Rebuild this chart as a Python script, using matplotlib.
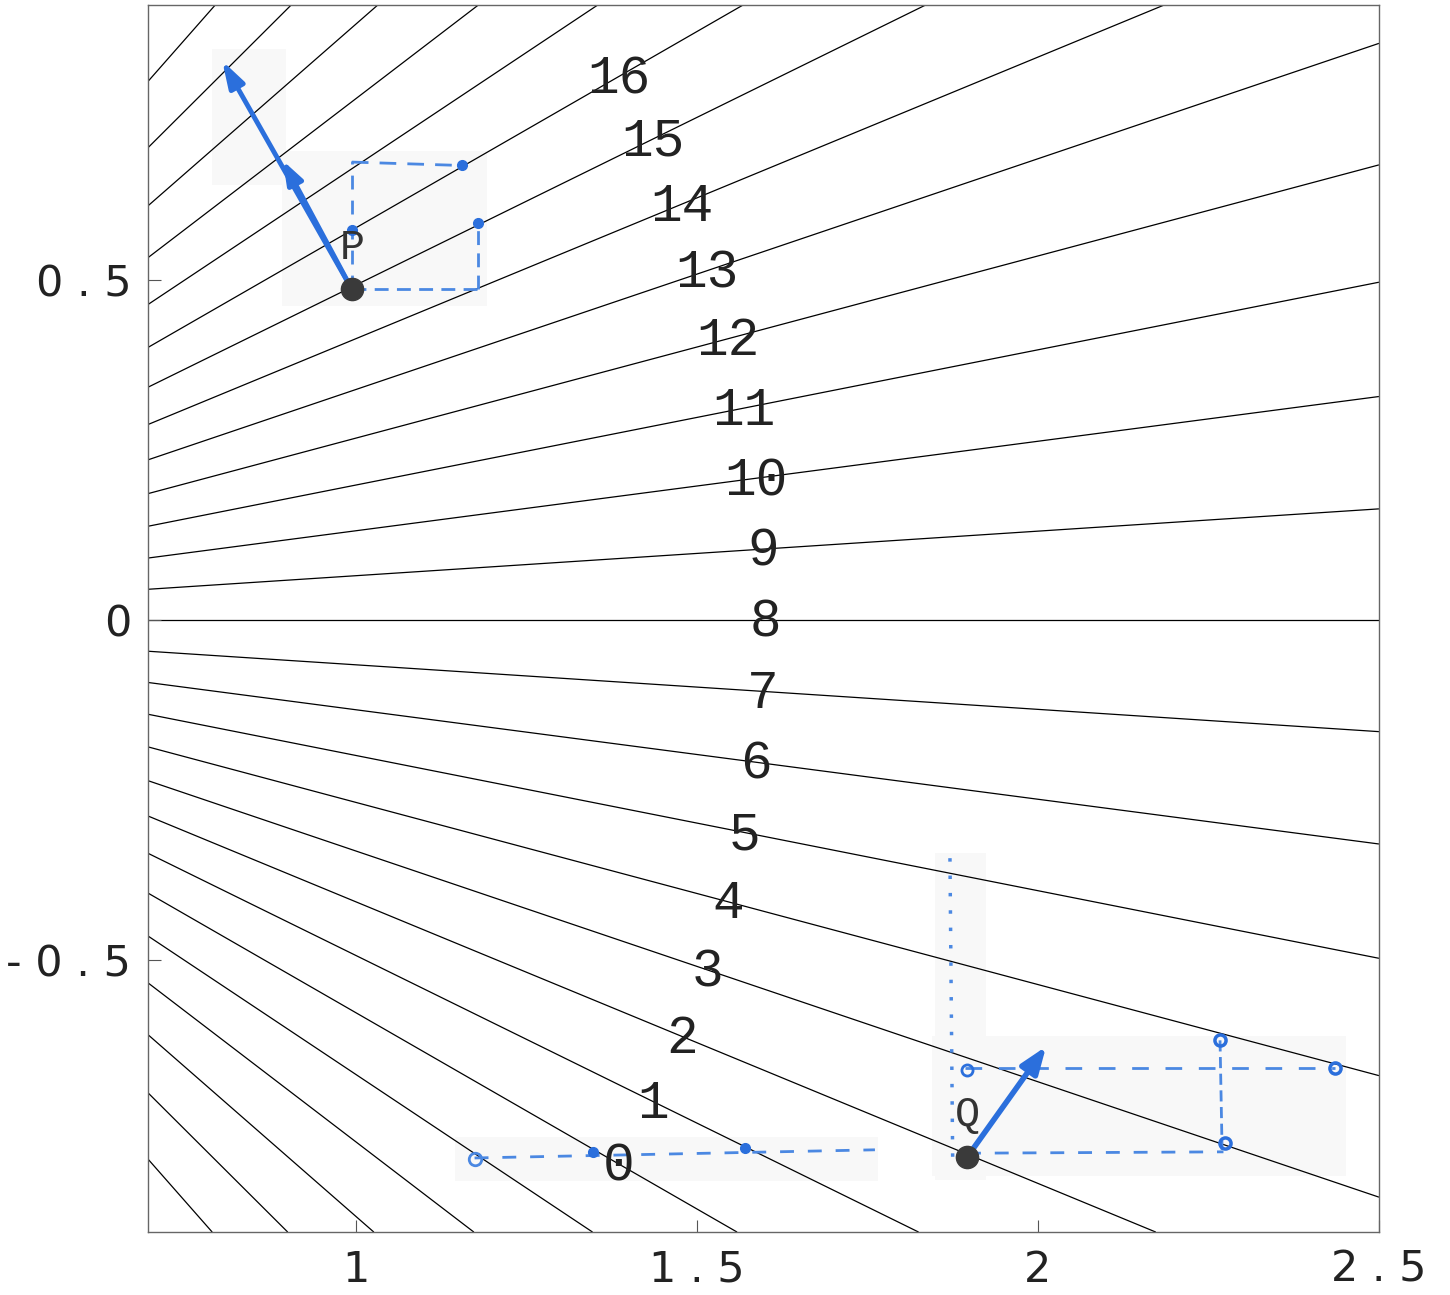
import numpy as np
import matplotlib
matplotlib.use("Agg")
import matplotlib.pyplot as plt
from matplotlib.patches import Rectangle

# ---- data ----
level_step_deg = 3.75                 # angular spacing of the contour lines
levels = np.arange(-5, 22)            # contour levels (label 8 = horizontal)
label_values = list(range(0, 17))     # labelled levels
label_radius = 1.6
xticks = [1.0, 1.5, 2.0, 2.5]
xtick_labels = ["1", "1 . 5", "2", "2 . 5"]
yticks = [-0.5, 0.0, 0.5]
ytick_labels = ["- 0 . 5", "0", "0 . 5"]
xlim = (0.695, 2.5)
ylim = (-0.9, 0.905)

P = (0.994, 0.487)
Q = (1.896, -0.790)
P_arrow_tip = (0.804, 0.823)
P_arrow_mid = (0.893, 0.676)
Q_arrow_tip = (2.012, -0.627)

blue = "#2b6fdc"
lblue = "#4b88e2"

fig = plt.figure(figsize=(14.5, 12.95), dpi=100)
ax = fig.add_axes([0.102, 0.0486, 0.849, 0.9475])

# faint pasted-in gray patches
patches = [(0.789, 0.64, 0.108, 0.20), (0.892, 0.463, 0.30, 0.228),
           (1.849, -0.823, 0.075, 0.48), (1.845, -0.817, 0.606, 0.206),
           (1.145, -0.825, 0.62, 0.065)]
for (x0, y0, w, h) in patches:
    ax.add_patch(Rectangle((x0, y0), w, h, facecolor="#f8f8f8", edgecolor="none", zorder=0.5))

# contour lines of the polar angle
xs = np.linspace(xlim[0], xlim[1], 400)
ys = np.linspace(ylim[0], ylim[1], 400)
X, Y = np.meshgrid(xs, ys)
F = 8 + np.degrees(np.arctan2(Y, X)) / level_step_deg
ax.contour(X, Y, F, levels=levels, colors="black", linewidths=0.9,
           linestyles="solid", negative_linestyles="solid", zorder=1)

# labels
for v in label_values:
    th = np.radians((v - 8) * level_step_deg)
    ax.text(label_radius * np.cos(th), label_radius * np.sin(th) - 0.004, str(v),
            fontsize=38, family="Liberation Mono", ha="center", va="center",
            color="#222222", zorder=3)

# ---- blue hand annotations ----
# arrow at P
ax.annotate("", xy=P_arrow_tip, xytext=P, zorder=4,
            arrowprops=dict(arrowstyle="-|>,head_length=1.6,head_width=0.5",
                            color=blue, lw=3.5, shrinkA=0, shrinkB=0))
ax.annotate("", xy=P_arrow_mid, xytext=P, zorder=4,
            arrowprops=dict(arrowstyle="-|>,head_length=1.4,head_width=0.5",
                            color=blue, lw=3.5, shrinkA=0, shrinkB=0))
# dashed box at P
ax.plot([P[0], 1.179], [0.487, 0.487], ls=(0, (5, 3)), color=lblue, lw=2, zorder=2)
ax.plot([1.179, 1.179], [0.487, 0.585], ls=(0, (5, 3)), color=lblue, lw=2, zorder=2)
ax.plot([0.994, 1.155], [0.674, 0.669], ls=(0, (6, 4)), color=lblue, lw=2, zorder=2)
ax.plot([0.994, 0.994], [0.487, 0.676], ls=(0, (5, 4)), color=lblue, lw=2, zorder=2)
ax.plot([1.179, 1.155, 0.994], [0.585, 0.669, 0.574], "o", color=blue, ms=7, zorder=4)

# arrow at Q
ax.annotate("", xy=Q_arrow_tip, xytext=Q, zorder=4,
            arrowprops=dict(arrowstyle="-|>,head_length=1.6,head_width=0.6",
                            color=blue, lw=4, shrinkA=0, shrinkB=0))
# dashed lines near Q
ax.plot([1.871, 1.875], [-0.35, -0.794], ls=(0, (1, 4)), color=lblue, lw=2.5, zorder=2)
ax.plot([1.893, 2.435], [-0.659, -0.659], ls=(0, (6, 6)), color=lblue, lw=2, zorder=2)
ax.plot([2.267, 2.270], [-0.618, -0.779], ls=(0, (4, 2)), color=lblue, lw=2, zorder=2)
ax.plot([1.896, 2.272], [-0.784, -0.782], ls=(0, (5, 5)), color=lblue, lw=2, zorder=2)
ax.plot([2.267, 2.435, 2.274], [-0.618, -0.659, -0.769], "o", color=blue, ms=8,
        mfc="none", mew=2.5, zorder=4)
ax.plot([1.896], [-0.662], "o", color=blue, ms=8, mfc="none", mew=2, zorder=4)

# bottom dashed line
ax.plot([1.174, 1.761], [-0.791, -0.779], ls=(0, (5, 5)), color=lblue, lw=2, zorder=2)
ax.plot([1.174], [-0.793], "o", color=lblue, ms=9, mfc="none", mew=2, zorder=4)
ax.plot([1.347, 1.570], [-0.782, -0.776], "o", color=blue, ms=7, zorder=4)

# points P and Q
ax.plot([P[0], Q[0]], [P[1], Q[1]], "o", color="#3a3a3a", ms=16, zorder=5)
ax.text(0.994, 0.548, "P", fontsize=30, family="Liberation Mono", ha="center",
        va="center", color="#333333", zorder=5)
ax.text(1.896, -0.728, "Q", fontsize=30, family="Liberation Mono", ha="center",
        va="center", color="#333333", zorder=5)

# axes
ax.set_xlim(*xlim)
ax.set_ylim(*ylim)
ax.set_xticks(xticks)
ax.set_xticklabels(xtick_labels)
ax.set_yticks(yticks)
ax.set_yticklabels(ytick_labels)
ax.tick_params(direction="in", length=9, width=0.8, color="#555555",
               labelsize=31, pad=12)
for lab in ax.get_xticklabels() + ax.get_yticklabels():
    lab.set_family("DejaVu Sans")
    lab.set_color("#222222")
for s in ax.spines.values():
    s.set_color("#666666")
    s.set_linewidth(1.0)

fig.savefig("out.png", dpi=100)
